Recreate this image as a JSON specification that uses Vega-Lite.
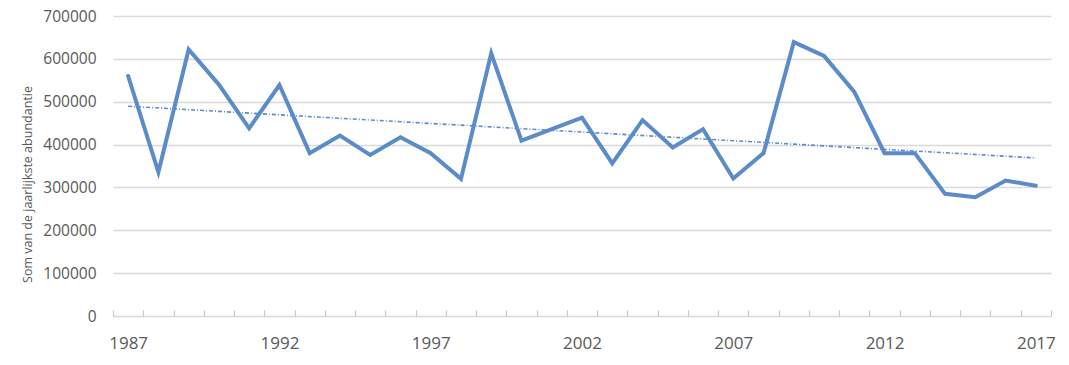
{
  "$schema": "https://vega.github.io/schema/vega-lite/v6.json",
  "width": 938,
  "height": 300,
  "autosize": "none",
  "padding": {"left": 113, "top": 16, "right": 18, "bottom": 49},
  "background": "white",
  "config": {
    "view": {"stroke": null},
    "font": "Open Sans"
  },
  "data": {
    "values": [
      {"year": 1987, "value": 560000},
      {"year": 1988, "value": 336000},
      {"year": 1989, "value": 622000},
      {"year": 1990, "value": 540000},
      {"year": 1991, "value": 438000},
      {"year": 1992, "value": 539000},
      {"year": 1993, "value": 380000},
      {"year": 1994, "value": 421000},
      {"year": 1995, "value": 376000},
      {"year": 1996, "value": 417000},
      {"year": 1997, "value": 380000},
      {"year": 1998, "value": 320000},
      {"year": 1999, "value": 613000},
      {"year": 2000, "value": 409000},
      {"year": 2001, "value": 436000},
      {"year": 2002, "value": 463000},
      {"year": 2003, "value": 356000},
      {"year": 2004, "value": 457000},
      {"year": 2005, "value": 393000},
      {"year": 2006, "value": 436000},
      {"year": 2007, "value": 321000},
      {"year": 2008, "value": 380000},
      {"year": 2009, "value": 639000},
      {"year": 2010, "value": 607000},
      {"year": 2011, "value": 523000},
      {"year": 2012, "value": 380000},
      {"year": 2013, "value": 380000},
      {"year": 2014, "value": 285000},
      {"year": 2015, "value": 277000},
      {"year": 2016, "value": 316000},
      {"year": 2017, "value": 304000}
    ]
  },
  "encoding": {
    "x": {
      "field": "year",
      "type": "quantitative",
      "scale": {"domain": [1986.5, 2017.5], "nice": false, "zero": false},
      "axis": {
        "title": null,
        "grid": false,
        "offset": -6,
        "domain": false,
        "values": [1986.5, 1987, 1987.5, 1988.5, 1989.5, 1990.5, 1991.5, 1992, 1992.5, 1993.5, 1994.5, 1995.5, 1996.5, 1997, 1997.5, 1998.5, 1999.5, 2000.5, 2001.5, 2002, 2002.5, 2003.5, 2004.5, 2005.5, 2006.5, 2007, 2007.5, 2008.5, 2009.5, 2010.5, 2011.5, 2012, 2012.5, 2013.5, 2014.5, 2015.5, 2016.5, 2017, 2017.5],
        "labelExpr": "datum.value % 1 == 0 ? '' + datum.value : ''",
        "labelOverlap": false,
        "labelFontSize": 17,
        "labelColor": "#595959",
        "labelPadding": 19,
        "tickColor": "#c8c8c8",
        "tickOpacity": {"condition": {"test": "datum.value % 1 == 0", "value": 0}, "value": 1},
        "tickWidth": 1.2,
        "tickSize": 6
      }
    },
    "y": {
      "field": "value",
      "type": "quantitative",
      "scale": {"domain": [0, 700000], "nice": false},
      "axis": {
        "title": "Som van de jaarlijkste abundantie",
        "titleFontSize": 12.5,
        "titleFontWeight": "normal",
        "titleColor": "#595959",
        "titleX": -86,
        "titleY": 168,
        "titleAngle": 270,
        "titleAlign": "center",
        "titleBaseline": "middle",
        "values": [0, 100000, 200000, 300000, 400000, 500000, 600000, 700000],
        "format": "d",
        "domain": false,
        "ticks": false,
        "labelFontSize": 15.5,
        "labelColor": "#595959",
        "labelPadding": 17,
        "gridColor": "#d9d9d9",
        "gridWidth": 1.5
      }
    }
  },
  "layer": [
    {
      "mark": {"type": "line", "color": "#5b8bc9", "strokeWidth": 4, "strokeJoin": "miter", "strokeCap": "round"}
    },
    {
      "transform": [{"regression": "value", "on": "year"}],
      "mark": {"type": "line", "color": "#5b8bc9", "strokeWidth": 1.6, "strokeDash": [4, 2, 1, 2]}
    }
  ]
}
